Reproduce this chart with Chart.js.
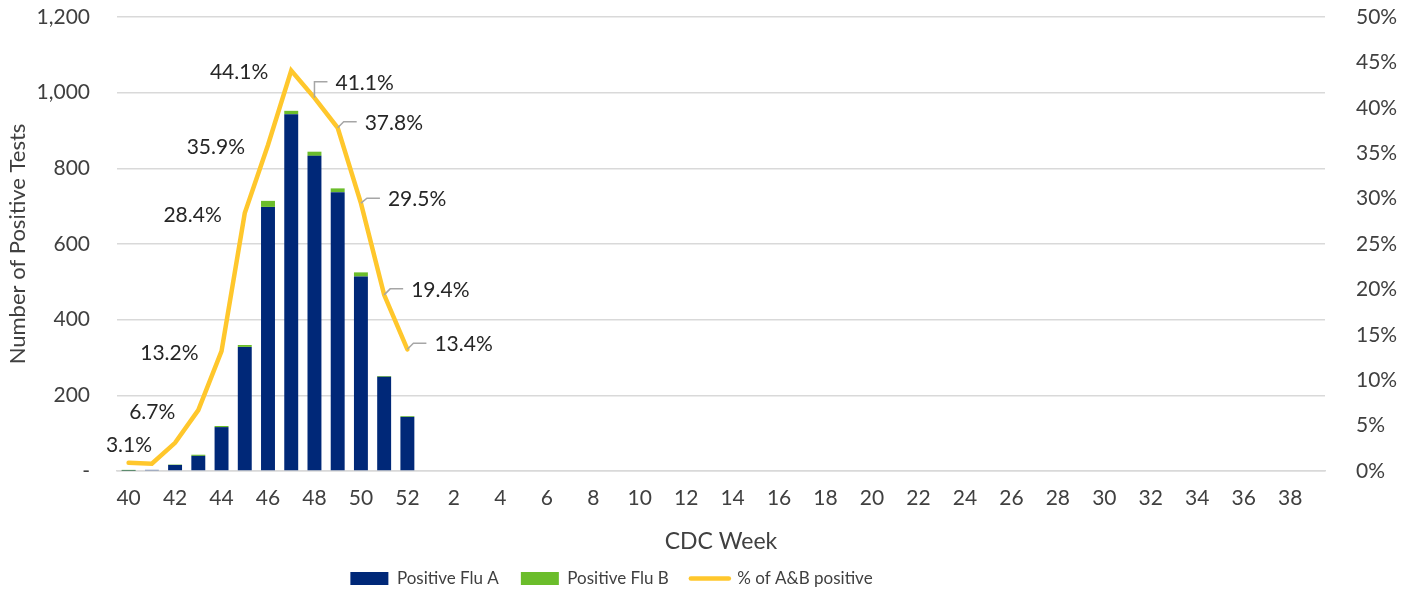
<!DOCTYPE html>
<html>
<head>
<meta charset="utf-8">
<script src="https://cdn.jsdelivr.net/npm/chart.js@4.4.1/dist/chart.umd.min.js"></script>
<style>
  html, body { margin: 0; padding: 0; background: #ffffff; }
  #wrap { width: 1401px; height: 595px; }
</style>
</head>
<body>
<div id="wrap"><canvas id="c" width="1401" height="595"></canvas></div>
<script>
// CDC weeks 40-52 then 1-39
const weeks = [40,41,42,43,44,45,46,47,48,49,50,51,52,
  1,2,3,4,5,6,7,8,9,10,11,12,13,14,15,16,17,18,19,20,
  21,22,23,24,25,26,27,28,29,30,31,32,33,34,35,36,37,38,39];
const fluA = [1,3,16,40,116,328,698,943,833,737,514,249,143];
const fluB = [2,0,1,3,3,5,16,9,11,10,11,2,2];
const pctPositive = [0.9,0.8,3.1,6.7,13.2,28.4,35.9,44.1,41.1,37.8,29.5,19.4,13.4];
const leftTicks = [0,200,400,600,800,1000,1200];
const rightTicks = [0,5,10,15,20,25,30,35,40,45,50];

const FONT = "Lato, 'Open Sans', sans-serif";
const TXT = '#404040';
const GRID = '#d9d9d9';
const CLEAR = 'rgba(0,0,0,0)';

// label placement style: 'L' = left of point, 'R' = right with leader; null = none
const labelSide = [null,null,'L','L','L','L','L','L','R','R','R','R','R'];
const leaderRise = [0,0,0,0,0,0,0,0,16,6,5,6,6];

const labelPlugin = {
  id: 'pctLabels',
  afterDatasetsDraw(chart) {
    const meta = chart.getDatasetMeta(2);
    const ctx = chart.ctx;
    ctx.save();
    ctx.font = "21px " + FONT;
    ctx.fillStyle = '#262626';
    ctx.textBaseline = 'middle';
    meta.data.forEach((pt, i) => {
      const side = labelSide[i];
      if (!side) return;
      const txt = pctPositive[i].toFixed(1) + '%';
      if (side === 'L') {
        ctx.textAlign = 'right';
        ctx.fillText(txt, pt.x - 23, pt.y + 2);
      } else {
        const ey = pt.y - leaderRise[i];
        const ex = pt.x + (i === 8 ? 0 : 6);
        ctx.strokeStyle = '#a6a6a6';
        ctx.lineWidth = 1.5;
        ctx.beginPath();
        ctx.moveTo(pt.x, pt.y);
        ctx.lineTo(ex, ey);
        ctx.lineTo(ex + 13, ey);
        ctx.stroke();
        ctx.textAlign = 'left';
        ctx.fillText(txt, ex + 21, ey + 1);
      }
    });
    ctx.restore();
  }
};

// legend: keep wide item spacing but a compact box, placed like the reference
const legendAdjust = {
  id: 'legendAdjust',
  afterInit(chart) {
    const lg = chart.legend;
    if (!lg || lg._adjusted) return;
    const origFit = lg.fit.bind(lg);
    lg.fit = function () { origFit(); this.height = 40; };
    const origDraw = lg.draw.bind(lg);
    lg.draw = function () {
      const ctx = chart.ctx;
      const t = this.top;
      this.top = t - 7;
      ctx.save();
      ctx.translate(-89, 0);
      origDraw();
      ctx.restore();
      this.top = t;
    };
    lg._adjusted = true;
  }
};

const fullA = weeks.map((w, i) => i < fluA.length ? fluA[i] : null);
const fullB = weeks.map((w, i) => i < fluB.length ? fluB[i] : null);
const fullP = weeks.map((w, i) => i < pctPositive.length ? pctPositive[i] : null);

new Chart(document.getElementById('c'), {
  data: {
    labels: weeks.map(String),
    datasets: [
      { type: 'bar', label: 'Positive Flu A', data: fullA, backgroundColor: '#002878',
        yAxisID: 'y', stack: 's', order: 1, barPercentage: 0.6, categoryPercentage: 1 },
      { type: 'bar', label: 'Positive Flu B', data: fullB, backgroundColor: '#6bbd2b',
        yAxisID: 'y', stack: 's', order: 1, barPercentage: 0.6, categoryPercentage: 1 },
      { type: 'line', label: '% of A&B positive', data: fullP, borderColor: '#ffc72c',
        backgroundColor: '#ffc72c', borderWidth: 4.5, pointRadius: 0, tension: 0,
        yAxisID: 'y2', order: 0, spanGaps: false, borderCapStyle: 'round', borderJoinStyle: 'miter' }
    ]
  },
  options: {
    responsive: false,
    animation: false,
    devicePixelRatio: 1,
    layout: { padding: { top: 17, bottom: 0, left: 0, right: 0 } },
    plugins: {
      tooltip: { enabled: false },
      legend: {
        position: 'bottom',
        labels: {
          font: { family: FONT, size: 17 },
          color: TXT,
          usePointStyle: true,
          pointStyleWidth: 38,
          boxHeight: 13,
          padding: 22,
          generateLabels(chart) {
            return chart.data.datasets.map((ds, i) => ({
              text: ds.label,
              fillStyle: ds.backgroundColor,
              strokeStyle: ds.type === 'line' ? ds.borderColor : ds.backgroundColor,
              lineWidth: ds.type === 'line' ? 4.5 : 0,
              lineCap: 'round',
              pointStyle: ds.type === 'line' ? 'line' : 'rect',
              fontColor: TXT,
              hidden: false,
              datasetIndex: i
            }));
          }
        }
      }
    },
    scales: {
      x: {
        stacked: true,
        grid: { display: false, drawTicks: false },
        border: { display: true, color: GRID, width: 1.5 },
        ticks: {
          autoSkip: false, maxRotation: 0, padding: 15,
          color: TXT, font: { family: FONT, size: 21 },
          callback(v, i) { return i % 2 === 0 ? weeks[i] : ''; }
        },
        title: { display: true, text: 'CDC Week', color: TXT, font: { family: FONT, size: 23 }, padding: { top: 14, bottom: 0 } },
        afterFit(s) { s.height = 84; }
      },
      y: {
        type: 'linear', position: 'left', stacked: true,
        min: 0, max: 1200,
        afterBuildTicks(s) { s.ticks = leftTicks.map(v => ({ value: v })); },
        grid: { color: GRID, lineWidth: 1.5, drawTicks: true, tickLength: 23, tickColor: CLEAR },
        border: { display: false },
        ticks: {
          padding: 4, color: TXT, font: { family: FONT, size: 21 },
          callback(v) { return v === 0 ? '-' : v.toLocaleString('en-US'); }
        },
        title: { display: true, text: 'Number of Positive Tests', color: TXT, font: { family: FONT, size: 22 }, padding: { top: 5, bottom: 0 } },
        afterFit(s) { s.width = 117; }
      },
      y2: {
        type: 'linear', position: 'right',
        min: 0, max: 50,
        afterBuildTicks(s) { s.ticks = rightTicks.map(v => ({ value: v })); },
        grid: { display: true, drawOnChartArea: false, drawTicks: true, tickLength: 27, tickColor: CLEAR, color: CLEAR },
        border: { display: false },
        ticks: {
          padding: 4, color: TXT, font: { family: FONT, size: 21 },
          callback(v) { return v + '%'; }
        },
        afterFit(s) { s.width = 76; }
      }
    }
  },
  plugins: [labelPlugin, legendAdjust]
});
</script>
</body>
</html>
